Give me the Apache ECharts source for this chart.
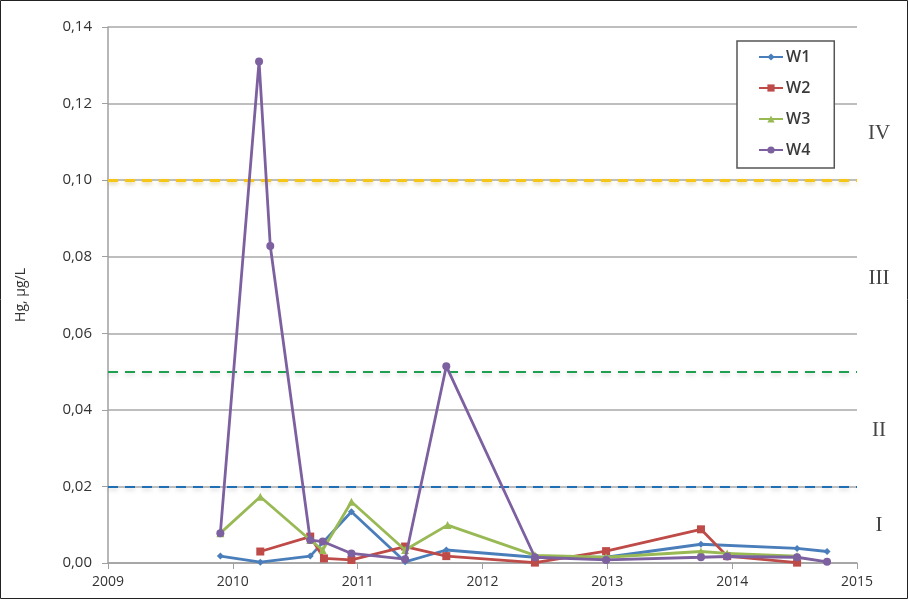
<!DOCTYPE html>
<html><head><meta charset="utf-8">
<script src="https://cdn.jsdelivr.net/npm/echarts@6/dist/echarts.min.js"></script>
<style>html,body{margin:0;padding:0;background:#fff}#c{width:909px;height:600px}</style>
</head><body><div id="c"></div>
<script>
const seriesNames = ['W1','W2','W3','W4'];
const W1 = [[2009.9,0.0018],[2010.22,0.0002],[2010.62,0.0018],[2010.95,0.0134],[2011.38,0.0003],[2011.71,0.0034],[2012.42,0.0015],[2012.99,0.0015],[2013.75,0.0049],[2014.52,0.0038],[2014.76,0.003]];
const W2 = [[2010.22,0.003],[2010.62,0.0069],[2010.73,0.0012],[2010.95,0.0008],[2011.38,0.0043],[2011.71,0.0018],[2012.42,0.0001],[2012.99,0.0031],[2013.75,0.0088],[2013.96,0.0018],[2014.52,0.0001]];
const W3 = [[2009.9,0.0078],[2010.22,0.0173],[2010.62,0.006],[2010.72,0.0034],[2010.95,0.016],[2011.38,0.0034],[2011.72,0.0099],[2012.42,0.002],[2012.99,0.0015],[2013.75,0.003],[2013.96,0.0025],[2014.52,0.0018]];
const W4 = [[2009.9,0.0078],[2010.21,0.131],[2010.3,0.0828],[2010.62,0.006],[2010.72,0.0056],[2010.95,0.0025],[2011.38,0.001],[2011.71,0.0514],[2012.42,0.0015],[2012.99,0.0008],[2013.75,0.0015],[2013.96,0.0017],[2014.52,0.0015],[2014.76,0.0003]];
const thresholds = [0.02, 0.05, 0.10];
const classLabels = ['I','II','III','IV'];
const classLabelValues = [0.0099, 0.0347, 0.0744, 0.1123];

const colors = ['#4a7ebb','#be4b48','#98b954','#7d60a0'];
const symbols = ['diamond','rect','triangle','circle'];
const symbolSizes = [7,8,8,8];
const thColors = ['#1f6fb5','#1fa050','#f5c518'];
const allData = [W1,W2,W3,W4];

const chart = echarts.init(document.getElementById('c'));
const series = allData.map((d,i)=>({
  name: seriesNames[i], type:'line', data:d, color:colors[i],
  symbol: symbols[i], symbolSize: symbolSizes[i], showAllSymbol:true,
  lineStyle:{width:2.8}, z: 5+i
}));
series.push({
  name:'thresholds', type:'line', data:[], silent:true, z:3,
  markLine:{silent:true, symbol:'none', label:{show:false},
    data: thresholds.map((v,i)=>({yAxis:v, lineStyle:{color:thColors[i], type:[10,7], width: i===2?3:2.2,
      shadowColor: i===2?'rgba(180,160,60,0.5)':'rgba(120,120,120,0.35)', shadowBlur:4, shadowOffsetY:2}}))}
});
const grid = {left:108, right:52, top:27, bottom:37};
chart.setOption({
  animation:false,
  grid: grid,
  legend:{data:seriesNames, orient:'vertical', left:737, top:41,
    padding:[8,24,10,21], itemGap:15, itemWidth:24, itemHeight:9,
    borderColor:'#555', borderWidth:1.5, backgroundColor:'#fff',
    textStyle:{fontFamily:'Open Sans', fontSize:16, fontWeight:600, color:'#3a3a3a', padding:[0,0,0,-2]}},
  xAxis:{type:'value', min:2009, max:2015, interval:1,
    axisLine:{show:true, lineStyle:{color:'#a0a0a0', width:1.5}},
    axisTick:{show:true, length:6, lineStyle:{color:'#a0a0a0'}},
    splitLine:{show:false},
    axisLabel:{formatter:v=>String(v), fontFamily:'Open Sans', fontSize:14, color:'#333', margin:12}},
  yAxis:{type:'value', min:0, max:0.14, interval:0.02,
    name:'Hg, µg/L', nameLocation:'middle', nameGap:80, nameTextStyle:{fontFamily:'Open Sans', fontSize:14, color:'#333'},
    axisLine:{show:true, lineStyle:{color:'#a0a0a0', width:1.5}},
    axisTick:{show:true, length:6, lineStyle:{color:'#a0a0a0'}},
    splitLine:{show:true, lineStyle:{color:'#a8a8a8', width:1.5}},
    axisLabel:{formatter:v=>v.toFixed(2).replace('.',','), fontFamily:'Open Sans', fontSize:15, color:'#333', margin:16}},
  series: series
});
function placeLabels(){
  const g = classLabels.map((t,i)=>{
    const p = chart.convertToPixel({gridIndex:0},[2015, classLabelValues[i]]);
    return {type:'text', x:p[0]+22, y:p[1], style:{text:t, font:'21px "Liberation Serif", serif', fill:'#444', textAlign:'center', textVerticalAlign:'middle'}};
  });
  g.push({type:'rect', shape:{x:0.5,y:0.5,width:907,height:598}, style:{fill:'none', stroke:'#222', lineWidth:1}, z:100});
  chart.setOption({graphic:g});
}
placeLabels();
</script></body></html>
